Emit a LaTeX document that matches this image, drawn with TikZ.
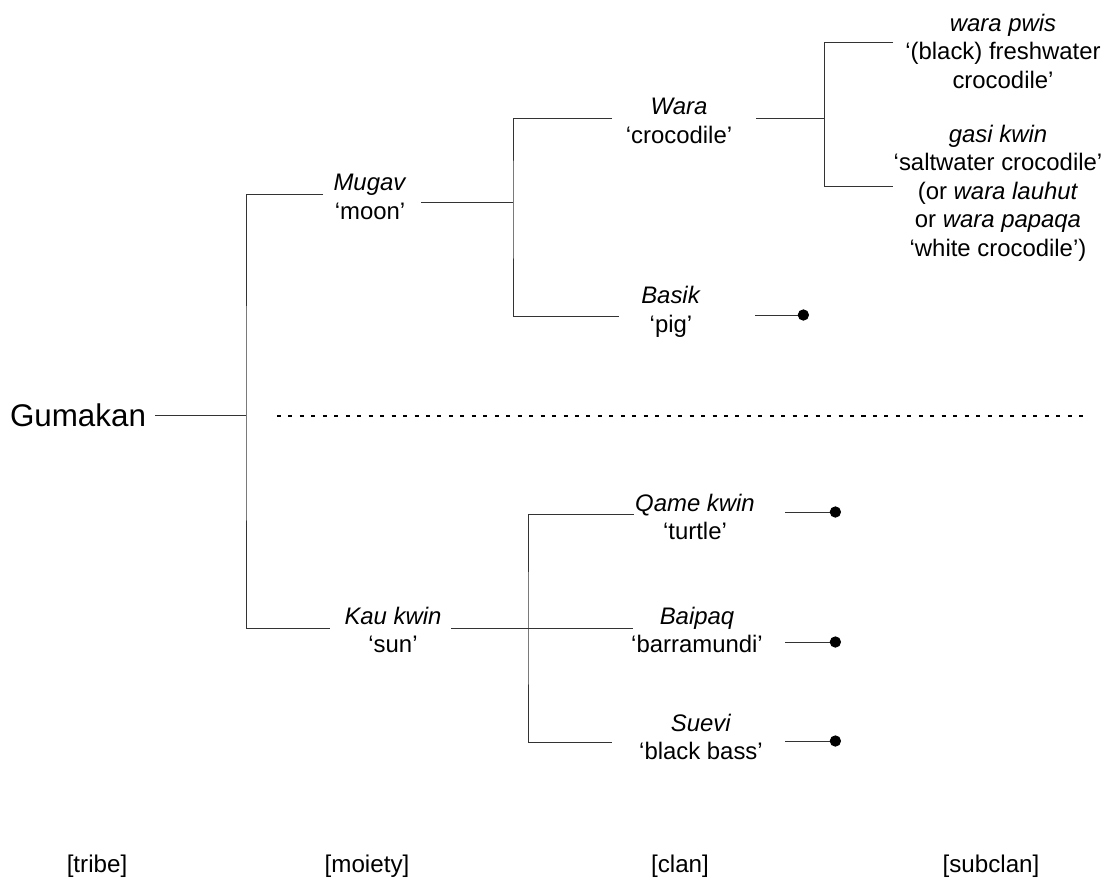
\documentclass[tikz,border=0pt]{standalone}
\usepackage{fontspec}
\setmainfont{Liberation Sans}
\usetikzlibrary{arrows.meta}
\tikzset{
  lbl/.style={align=center,inner sep=0pt,font=\fontsize{17}{20.3}\selectfont},
  tribename/.style={inner sep=0pt,font=\fontsize{22.3}{26}\selectfont},
  rank/.style={inner sep=0pt,font=\fontsize{17.2}{20.3}\selectfont},
  branch/.style={draw=black!80,line width=0.7pt},
  leaf/.style={branch,-{Circle[length=8pt,color=black]}},
  divider/.style={line width=1.4pt,dash pattern=on 2.85pt off 5.3pt}
}
\begin{document}
\begin{tikzpicture}[x=0.025cm,y=-0.025cm]
       \useasboundingbox (0,0) rectangle (1111,884);
       % labels
       \node[tribename] (gumakan) at (78,415) {Gumakan};
       \node[lbl] (mugav) at (370,197) {\textit{Mugav}\\‘moon’};
       \node[lbl] (kaukwin) at (393,630) {\textit{Kau kwin}\\‘sun’};
       \node[lbl] (wara) at (679,121) {\textit{Wara}\\‘crocodile’};
       \node[lbl] (basik) at (671,312) {\textit{Basik}\\‘pig’};
       \node[lbl] (qamekwin) at (695,517) {\textit{Qame kwin}\\‘turtle’};
       \node[lbl] (baipaq) at (697,630) {\textit{Baipaq}\\‘barramundi’};
       \node[lbl] (suevi) at (701,737) {\textit{Suevi}\\‘black bass’};
       \node[lbl] (warapwis) at (1003,51) {\textit{wara pwis}\\‘(black) freshwater\\crocodile’};
       \node[lbl] (gasikwin) at (998,193) {\textit{gasi kwin}\\‘saltwater crocodile’\\(or \textit{wara lauhut}\\or \textit{wara papaqa}\\‘white crocodile’)};
       % ranks
       \node[rank] (tribe-lbl) at (97,866) {[tribe]};
       \node[rank] (moiety-lbl) at (367,866) {[moiety]};
       \node[rank] (clan-lbl) at (680,866) {[clan]};
       \node[rank] (subclan-lbl) at (991,866) {[subclan]};
       % branch points
       \coordinate (tribe) at (246,415);
       \coordinate (moon) at (513,202);
       \coordinate (sun) at (528,628);
       \coordinate (croc) at (824,118);
       % line ends
       \coordinate (gumakan-r) at (155,415);
       \coordinate (mugav-l) at (323,194);
       \coordinate (mugav-r) at (421,202);
       \coordinate (kaukwin-l) at (330,628);
       \coordinate (kaukwin-r) at (451,628);
       \coordinate (wara-l) at (612,118);
       \coordinate (wara-r) at (756,118);
       \coordinate (basik-l) at (619,316);
       \coordinate (qamekwin-l) at (634,514);
       \coordinate (baipaq-l) at (633,628);
       \coordinate (suevi-l) at (612,742);
       \coordinate (warapwis-l) at (893,42);
       \coordinate (gasikwin-l) at (893,186);
       \coordinate (basik-r) at (755,315);
       \coordinate (basik-end) at (809,315);
       \coordinate (qamekwin-r) at (785,512);
       \coordinate (qamekwin-end) at (841,512);
       \coordinate (baipaq-r) at (785,642);
       \coordinate (baipaq-end) at (841,642);
       \coordinate (suevi-r) at (785,741);
       \coordinate (suevi-end) at (841,741);
       \coordinate (div-l) at (277,416);
       \coordinate (div-r) at (1088,416);
       % tree
       \draw[branch] (gumakan-r) -- (tribe);
       \draw[branch] (mugav-l) -| (tribe) |- (kaukwin-l);
       \draw[branch] (mugav-r) -- (moon);
       \draw[branch] (wara-l) -| (moon) |- (basik-l);
       \draw[branch] (kaukwin-r) -- (baipaq-l);
       \draw[branch] (qamekwin-l) -| (sun) |- (suevi-l);
       \draw[branch] (wara-r) -- (croc);
       \draw[branch] (warapwis-l) -| (croc) |- (gasikwin-l);
       \draw[leaf] (basik-r) -- (basik-end);
       \draw[leaf] (qamekwin-r) -- (qamekwin-end);
       \draw[leaf] (baipaq-r) -- (baipaq-end);
       \draw[leaf] (suevi-r) -- (suevi-end);
       \draw[divider] (div-l) -- (div-r);
\end{tikzpicture}
\end{document}
